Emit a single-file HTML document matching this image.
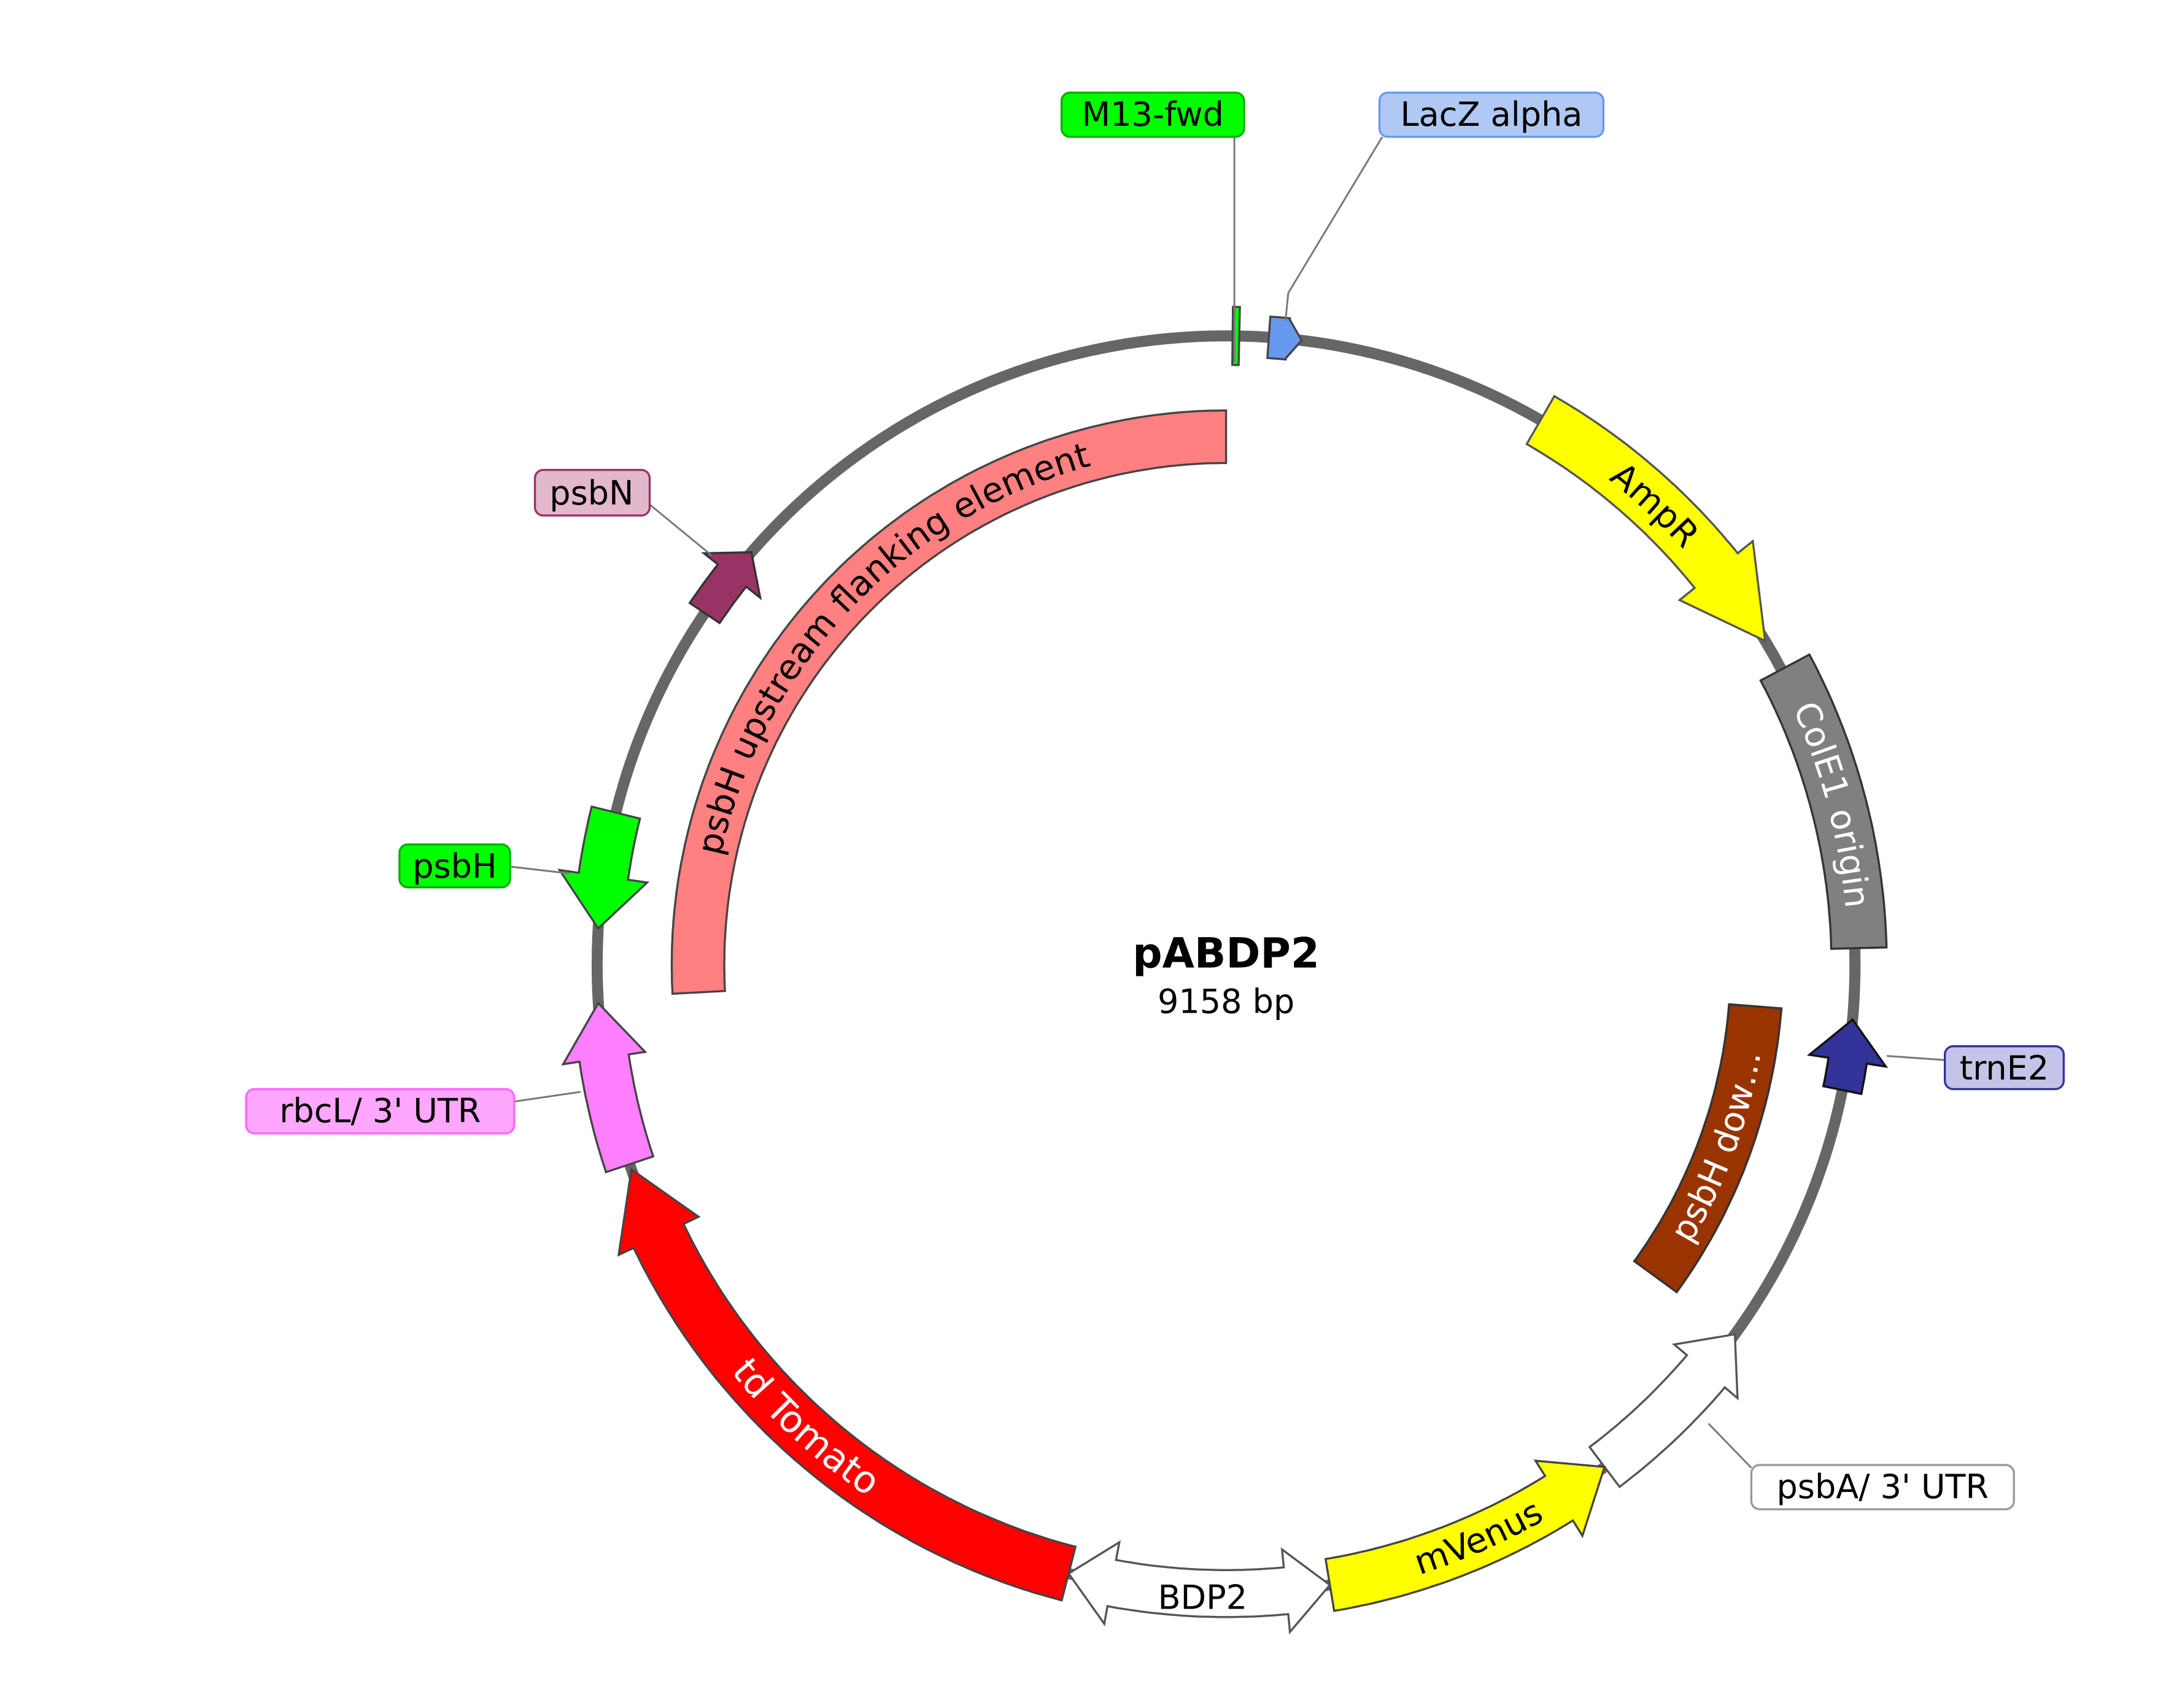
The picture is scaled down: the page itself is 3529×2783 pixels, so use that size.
<!DOCTYPE html>
<html><head><meta charset="utf-8"><style>
html,body{margin:0;padding:0;background:#fff;}
svg{display:block;font-family:"DejaVu Sans","Liberation Sans",sans-serif;}
</style></head><body>
<svg id="s" width="3529" height="2783" viewBox="0 0 1567 1235.8" preserveAspectRatio="none">
<circle cx="887" cy="698" r="455" fill="none" stroke="#666" stroke-width="8"/>
<g id="feat"></g>
<defs id="defs"></defs>
<g stroke="#777" stroke-width="1.3" fill="none">
<line x1="893" y1="99" x2="893" y2="262"/>
<polyline points="1000,99 932,212 930,232"/>
<line x1="470" y1="365" x2="515" y2="402"/>
<line x1="369" y1="627" x2="412" y2="632"/>
<line x1="372" y1="797" x2="420" y2="790"/>
<line x1="1365" y1="764" x2="1407" y2="767"/>
<line x1="1267" y1="1062" x2="1236" y2="1030"/>
</g>
<g font-size="24">
<rect x="768" y="67" width="132" height="32" rx="6" fill="#00ff00" stroke="#00b000" stroke-width="1.5"/>
<text x="834" y="91" text-anchor="middle">M13-fwd</text>
<rect x="998" y="67" width="162" height="32" rx="6" fill="#b0c8f4" stroke="#6699ee" stroke-width="1.5"/>
<text x="1079" y="91" text-anchor="middle">LacZ alpha</text>
<rect x="387" y="340" width="83" height="33" rx="6" fill="#e2b8cc" stroke="#993366" stroke-width="1.5"/>
<text x="428" y="365" text-anchor="middle">psbN</text>
<rect x="289" y="611" width="80" height="31" rx="6" fill="#00ff00" stroke="#00b000" stroke-width="1.5"/>
<text x="329" y="635" text-anchor="middle">psbH</text>
<rect x="178" y="788" width="194" height="32" rx="6" fill="#ffa6ff" stroke="#ff66ff" stroke-width="1.5"/>
<text x="275" y="812" text-anchor="middle">rbcL/ 3' UTR</text>
<rect x="1407" y="757" width="86" height="31" rx="6" fill="#c4c4e8" stroke="#333399" stroke-width="1.5"/>
<text x="1450" y="781" text-anchor="middle">trnE2</text>
<rect x="1267" y="1060" width="190" height="32" rx="6" fill="#fff" stroke="#999" stroke-width="1.5"/>
<text x="1362" y="1084" text-anchor="middle">psbA/ 3' UTR</text>
<text x="887" y="700" text-anchor="middle" font-weight="bold" font-size="30">pABDP2</text>
<text x="887" y="733" text-anchor="middle">9158 bp</text>
<text x="870" y="1164" text-anchor="middle">BDP2</text>
<text font-size="25"><textPath href="#tAmp" startOffset="50%" text-anchor="middle">AmpR</textPath></text>
<text font-size="25" fill="#fff"><textPath href="#tCol" startOffset="50%" text-anchor="middle">ColE1 origin</textPath></text>
<text font-size="25"><textPath href="#tUp" startOffset="50%" text-anchor="middle">psbH upstream flanking element</textPath></text>
<text font-size="25" fill="#fff"><textPath href="#tDow" startOffset="50%" text-anchor="middle">psbH dow…</textPath></text>
<text font-size="27" fill="#fff"><textPath href="#tTom" startOffset="50%" text-anchor="middle">td Tomato</textPath></text>
<text font-size="25"><textPath href="#tVen" startOffset="50%" text-anchor="middle">mVenus</textPath></text>
</g>
<script>
var cx=887,cy=698,NS="http://www.w3.org/2000/svg";
function pt(a,r){var t=a*Math.PI/180;return [cx+r*Math.sin(t),cy-r*Math.cos(t)];}
function arcPts(a1,a2,r){var p=[],n=Math.max(2,Math.ceil(Math.abs(a2-a1)/0.5));for(var i=0;i<=n;i++)p.push(pt(a1+(a2-a1)*i/n,r));return p;}
function feat(a1,a2,rc,w,dir,hl,hw,fill,stroke){
 var h=hl/rc*180/Math.PI,o=rc+w/2,n=rc-w/2,p=[];
 var s=a1,e=a2;
 if(dir==-1||dir==2)s=a1+h; if(dir==1||dir==2)e=a2-h;
 if(s>e){s=e=(a1+a2)/2;}
 if(dir==-1||dir==2){p.push(pt(s,n),pt(s,rc-hw),pt(a1,rc),pt(s,rc+hw));}
 p=p.concat(arcPts(s,e,o));
 if(dir==1||dir==2){p.push(pt(e,rc+hw),pt(a2,rc),pt(e,rc-hw));}
 p=p.concat(arcPts(e,s,n));
 var el=document.createElementNS(NS,"polygon");
 el.setAttribute("points",p.map(function(q){return q[0].toFixed(1)+","+q[1].toFixed(1)}).join(" "));
 el.setAttribute("fill",fill);el.setAttribute("stroke",stroke||"#444");el.setAttribute("stroke-width","1.5");
 document.getElementById("feat").appendChild(el);
}
function tp(id,a1,a2,r,cw){
 var P=pt(a1,r),Q=pt(a2,r),lg=Math.abs(a2-a1)>180?1:0;
 var el=document.createElementNS(NS,"path");el.setAttribute("id",id);
 el.setAttribute("d","M"+P[0]+","+P[1]+" A"+r+","+r+" 0 "+lg+" "+(cw?1:0)+" "+Q[0]+","+Q[1]);
 el.setAttribute("fill","none");
 document.getElementById("defs").appendChild(el);
}
var R=455;
feat(30,59,R,40,1,62,34,"#ffff00","#555");
feat(62,88.5,458,40,0,0,0,"#808080","#333");
feat(95,101.5,R,28,-1,30,28,"#333399","#111");
feat(126,143,R,36,-1,34,30,"#ffffff","#555");
feat(143,170.5,R,38,-1,40,32,"#ffff00","#444");
feat(170.5,194.5,R,34,2,32,30,"#ffffff","#555");
feat(194.5,251,R,40,1,52,32,"#ff0000","#444");
feat(251.5,266.5,R,36,1,40,30,"#ff80ff","#444");
feat(273.3,284,R,36,-1,38,32,"#00ff00","#444");
feat(304,311,R,26,1,22,26,"#993366","#333");
feat(0.6,1.2,R,42,0,0,0,"#00ff00","#444");
feat(3.9,6.9,R,30,1,10,14,"#6699ee","#444");
feat(267,360,382,38,0,0,0,"#ff8080","#444");
feat(94.5,126,384,38,0,0,0,"#993300","#333");
tp("tAmp",30,56,R-8,1);
tp("tCol",62,88.5,458-8,1);
tp("tUp",267,360,382-8,1);
tp("tDow",126,94.5,384+8,0);
tp("tTom",250,194.5,R+9,0);
tp("tVen",170.5,142,R+8,0);
</script>
</svg>
</body></html>
